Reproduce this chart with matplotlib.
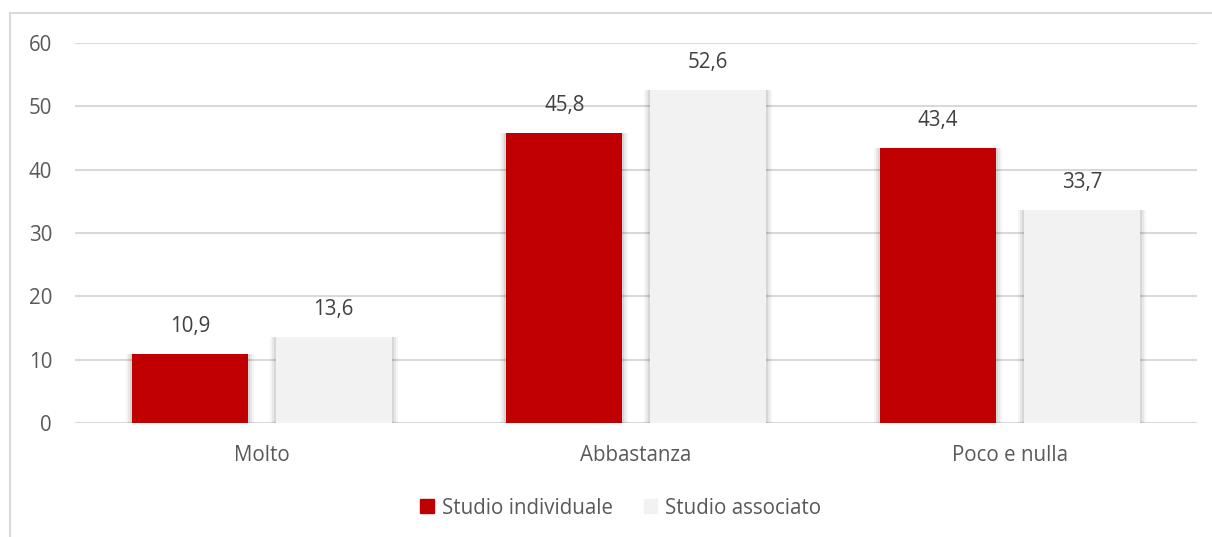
import matplotlib.pyplot as plt
from matplotlib.patches import Rectangle
import numpy as np

categories = ['Molto', 'Abbastanza', 'Poco e nulla']
individuale = [10.9, 45.8, 43.4]
associato = [13.6, 52.6, 33.7]
series_names = ['Studio individuale', 'Studio associato']

red = '#C00000'
light = '#F2F2F2'
txt = '#595959'

plt.rcParams['font.family'] = ['Open Sans', 'DejaVu Sans']
fs = 14.8

fig = plt.figure(figsize=(12.12, 5.37), dpi=100)
ax = fig.add_axes([75 / 1212, 1 - 423 / 537, 1122 / 1212, 380 / 537])

# outer chart frame
fig.patches.append(Rectangle((10 / 1212, -0.1), 1.2, 1 - 13 / 537 + 0.1,
                             transform=fig.transFigure, fill=False,
                             edgecolor='#D9D9D9', linewidth=1.5))

x = np.arange(len(categories))
w = 0.31
off = 0.192

def shadowed(xs, vals, color):
    # soft drop shadow behind each bar
    for i, a in enumerate([0.04, 0.05, 0.07]):
        grow = 0.011 * (3 - i)
        ax.bar(xs, np.array(vals) + 0.3 * (3 - i), width=w + grow, bottom=-0.3 * (3 - i),
               color='black', alpha=a, linewidth=0, zorder=2)
    return ax.bar(xs, vals, width=w, color=color, linewidth=0, zorder=3)

b1 = shadowed(x - off, individuale, red)
b2 = shadowed(x + off, associato, light)

for bars, vals in ((b1, individuale), (b2, associato)):
    for b, v in zip(bars, vals):
        ax.text(b.get_x() + b.get_width() / 2, v + 4.3, f'{v:.1f}'.replace('.', ','),
                ha='center', va='center', fontsize=fs, color='#404040')

ax.set_xlim(-0.5, 2.5)
ax.set_ylim(0, 60)
ax.set_yticks(range(0, 61, 10))
ax.set_xticks(x)
ax.set_xticklabels(categories)
ax.yaxis.grid(True, color='#D9D9D9', linewidth=1.5, zorder=0)
ax.set_axisbelow(True)
for s in ax.spines.values():
    s.set_visible(False)
ax.tick_params(length=0, labelsize=fs, colors=txt)
ax.tick_params(axis='y', pad=16.5)
ax.tick_params(axis='x', pad=16)

handles = [Rectangle((0, 0), 1, 1, color=red), Rectangle((0, 0), 1, 1, color=light)]
fig.legend(handles, series_names, loc='center', bbox_to_anchor=(621 / 1212, 1 - 508 / 537),
           ncol=2, frameon=False, fontsize=fs, labelcolor=txt,
           handlelength=0.65, handleheight=0.65, handletextpad=0.4, columnspacing=1.5)

fig.savefig('out.png', dpi=100)
